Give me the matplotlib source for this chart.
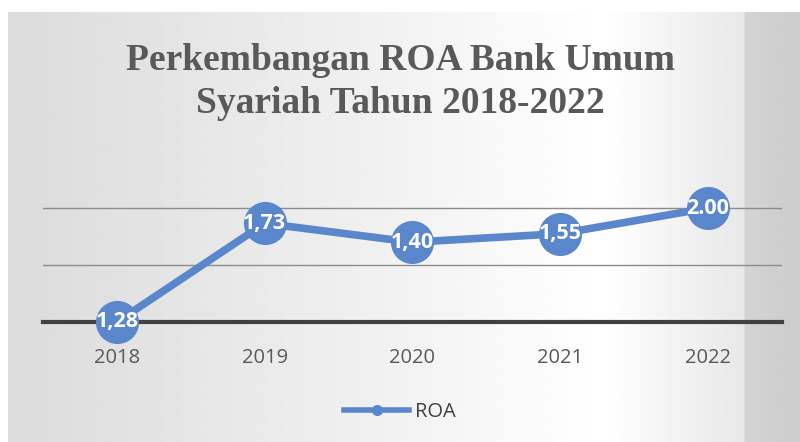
import numpy as np
import matplotlib.pyplot as plt
from matplotlib.lines import Line2D

# data
years = ["2018", "2019", "2020", "2021", "2022"]
roa = [0.0, 1.73, 1.40, 1.55, 2.00]          # 2018 point is drawn on the axis in the original
roa_labels = ["1,28", "1,73", "1,40", "1,55", "2.00"]

blue = "#5a86cb"
grey_text = "#595959"

fig = plt.figure(figsize=(8, 4.42), dpi=100)
fig.patch.set_facecolor("white")

# soft grey chart-area gradient behind everything
bg = fig.add_axes([8 / 800, 0, 1 - 8 / 800, 1 - 12 / 442], zorder=-10)
xs = np.linspace(0, 1, 400)
shade = np.interp(xs, [0, 0.45, 0.75, 0.93, 0.931, 1], [0.86, 0.94, 1.0, 0.91, 0.83, 0.8])
img = np.tile(shade, (50, 1))
bg.imshow(img, cmap="gray", vmin=0, vmax=1, aspect="auto", extent=[0, 1, 0, 1])
bg.set_axis_off()

ax = fig.add_axes([43 / 800, 1 - 322 / 442, (782 - 43) / 800, 2.4 * 57 / 442])
ax.patch.set_alpha(0)
x = np.arange(len(years))
ax.plot(x, roa, color=blue, lw=5.5, marker="o", ms=30, mfc=blue, mec=blue,
        solid_capstyle="round", zorder=3, clip_on=False)
for xi, yi, lab in zip(x, roa, roa_labels):
    ax.text(xi, yi, lab, ha="center", va="center", color="white",
            fontsize=15.5, fontweight="bold", family="Open Sans", zorder=4)

ax.set_xlim(-0.5, len(years) - 0.5)
ax.set_ylim(0, 2.4)
ax.set_yticks([1, 2])
ax.yaxis.grid(True, color="#8c8c8c", lw=1)
ax.set_axisbelow(True)
ax.tick_params(axis="y", left=False, labelleft=False)
ax.set_xticks(x)
ax.set_xticklabels(years, color=grey_text, fontsize=14.5, family="Open Sans")
ax.tick_params(axis="x", length=0, pad=19)
for s in ["top", "right", "left"]:
    ax.spines[s].set_visible(False)
ax.spines["bottom"].set_color("#404040")
ax.spines["bottom"].set_linewidth(3)
ax.spines["bottom"].set_zorder(2)

fig.text(0.5, 1 - 82 / 442, "Perkembangan ROA Bank Umum\nSyariah Tahun 2018-2022",
         ha="center", va="center", color=grey_text, fontsize=27, fontweight="bold",
         family="Liberation Serif", linespacing=1.33)

handle = Line2D([], [], color=blue, lw=4, marker="o", ms=7, mfc=blue, mec=blue)
fig.legend([handle], ["ROA"], loc="center", bbox_to_anchor=(0.5, 1 - 412 / 442),
           frameon=False, labelcolor="#404040", handlelength=3.2, handletextpad=0.3,
           prop={"family": "Open Sans", "size": 14.5})

fig.savefig("out.png", dpi=100)
